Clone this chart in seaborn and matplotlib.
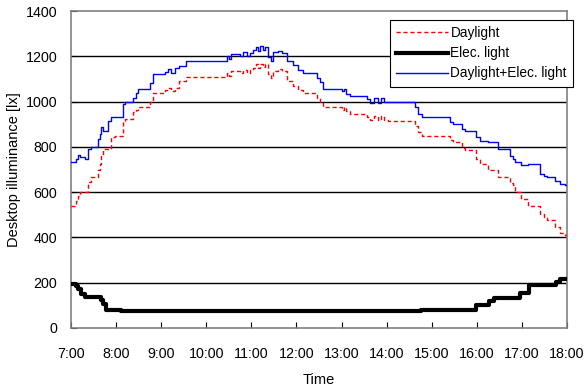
import matplotlib
matplotlib.use("Agg")
import matplotlib.pyplot as plt
import pandas as pd
import seaborn as sns

# Step-change times (decimal hours) with the readings that hold from each time on
times = [7.00, 7.10, 7.15, 7.20, 7.30, 7.38, 7.44, 7.60, 7.64, 7.67, 7.71, 7.82,
         7.89, 7.97, 8.15, 8.20, 8.37, 8.43, 8.49, 8.75, 8.82, 9.08, 9.15, 9.22,
         9.30, 9.40, 9.55, 10.45, 10.50, 10.55, 10.75, 10.82, 10.90, 10.97, 11.04,
         11.10, 11.14, 11.20, 11.26, 11.31, 11.37, 11.43, 11.48, 11.60, 11.68,
         11.79, 11.93, 12.03, 12.15, 12.45, 12.52, 12.59, 13.00, 13.05, 13.10,
         13.19, 13.56, 13.64, 13.72, 13.80, 13.88, 13.95, 14.03, 14.63, 14.70,
         14.78, 15.40, 15.47, 15.66, 15.74, 15.99, 16.07, 16.25, 16.47, 16.74,
         16.80, 16.84, 16.99, 17.13, 17.40, 17.48, 17.55, 17.73, 17.84, 17.95,
         18.00]

daylight = [538, 560, 585, 600, 600, 645, 666, 700, 725, 760, 791, 791,
            842, 850, 916, 923, 952, 965, 975, 996, 1040, 1050, 1060, 1045,
            1062, 1092, 1107, 1125, 1115, 1136, 1125, 1140, 1128, 1138, 1150,
            1165, 1148, 1167, 1152, 1165, 1120, 1105, 1136, 1145, 1137,
            1092, 1070, 1050, 1040, 1017, 1000, 975, 965, 975, 960,
            945, 930, 920, 935, 918, 938, 920, 916, 890, 865,
            850, 830, 820, 796, 784, 745, 725, 696, 666, 640,
            630, 600, 570, 537, 505, 490, 476, 447, 420, 410,
            410]

total = [735, 745, 765, 755, 748, 791, 798, 835, 858, 886, 872, 916,
         930, 930, 989, 996, 1018, 1040, 1055, 1084, 1121, 1130, 1145, 1125,
         1150, 1158, 1180, 1200, 1189, 1211, 1200, 1217, 1203, 1215, 1228,
         1242, 1225, 1246, 1228, 1240, 1195, 1180, 1217, 1224, 1215,
         1180, 1160, 1140, 1125, 1105, 1085, 1055, 1045, 1055, 1035,
         1026, 1010, 995, 1015, 995, 1018, 998, 996, 975, 945,
         930, 910, 901, 878, 872, 845, 828, 820, 791, 760,
         745, 735, 720, 725, 680, 670, 666, 648, 635, 630,
         630]

elec_times = [7.00, 7.10, 7.15, 7.22, 7.30, 7.66, 7.71, 7.77, 8.10, 14.76,
              15.97, 16.28, 16.38, 16.96, 17.15, 17.75, 17.84, 18.00]
elec = [195, 185, 170, 152, 138, 123, 108, 80, 76, 80,
        103, 120, 133, 155, 189, 205, 218, 218]

hour_ticks = list(range(7, 19))
hour_labels = [f"{h}:00" for h in hour_ticks]
lux_ticks = [0, 200, 400, 600, 800, 1000, 1200, 1400]

day_df = pd.DataFrame({"time": times, "Daylight": daylight, "Total": total})
elec_df = pd.DataFrame({"time": elec_times, "Elec": elec})

plt.rcParams["font.family"] = ["Liberation Sans", "DejaVu Sans"]

fig = plt.figure(figsize=(5.87, 3.87), dpi=100)
ax = fig.add_axes([0.121, 0.1525, 0.845, 0.819])

for y in lux_ticks[1:-1]:
    ax.axhline(y, color="black", lw=1.0, zorder=1)

sns.lineplot(data=day_df, x="time", y="Daylight", ax=ax, color="#ff0000",
             lw=1.0, linestyle=(0, (3, 2)), drawstyle="steps-post",
             label="Daylight", zorder=3)
sns.lineplot(data=elec_df, x="time", y="Elec", ax=ax, color="black",
             lw=3.0, drawstyle="steps-post", label="Elec. light", zorder=3)
sns.lineplot(data=day_df, x="time", y="Total", ax=ax, color="#0000ff",
             lw=1.0, drawstyle="steps-post", label="Daylight+Elec. light",
             zorder=3)

ax.set_xlim(7, 18)
ax.set_ylim(0, 1400)
ax.set_xticks(hour_ticks)
ax.set_xticklabels(hour_labels)
ax.set_yticks(lux_ticks)
ax.tick_params(direction="in", length=4, width=0.8, color="black",
               labelsize=10.3, pad=10)
ax.tick_params(axis="x", pad=14)
for side in ["left", "bottom", "right", "top"]:
    ax.spines[side].set_color("#808080")
    ax.spines[side].set_linewidth(1.2)

ax.set_xlabel("Time", fontsize=10.5, labelpad=8)
ax.set_ylabel("Desktop illuminance [lx]", fontsize=10.5, labelpad=3)

leg = ax.legend(loc="upper right", bbox_to_anchor=(0.976, 0.948),
                bbox_transform=fig.transFigure, fontsize=9.8, frameon=True,
                fancybox=False, framealpha=1, edgecolor="black",
                borderpad=0.45, labelspacing=0.45, handlelength=3.8,
                handletextpad=0.2, borderaxespad=0)
leg.get_frame().set_linewidth(0.8)
leg.set_zorder(5)

fig.savefig("out.png", dpi=100)
